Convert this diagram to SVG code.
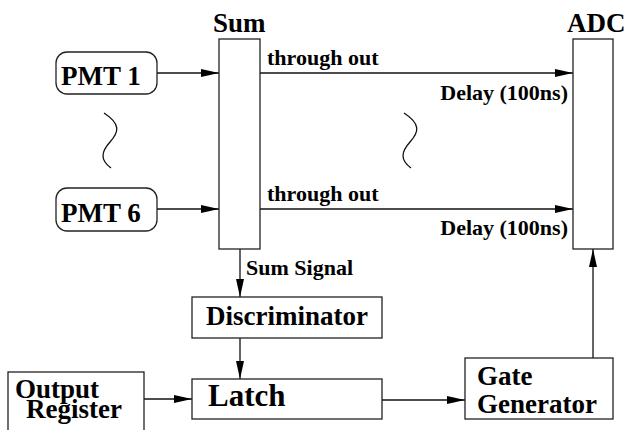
<svg xmlns="http://www.w3.org/2000/svg" width="624" height="430" viewBox="0 0 624 430">
<style>
.box{fill:#fff;stroke:#222;stroke-width:1.3}
.ln{fill:none;stroke:#111;stroke-width:1.3}
.big{font-family:"Liberation Serif","Times New Roman",serif;font-weight:bold;font-size:27px;fill:#000}
.sm{font-family:"Liberation Serif","Times New Roman",serif;font-weight:bold;font-size:22px;fill:#000}
</style>
<defs>
<marker id="ah" markerUnits="userSpaceOnUse" markerWidth="19" markerHeight="10" refX="18" refY="4.5" orient="auto">
<path d="M0,0.5 L18,4.5 L0,8.5 Z" fill="#000"/>
</marker>
</defs>
<rect width="624" height="430" fill="#fff"/>
<g id="connectors">
<line class="ln" x1="157" y1="73" x2="219" y2="73" marker-end="url(#ah)"/>
<line class="ln" x1="157" y1="209" x2="219" y2="209" marker-end="url(#ah)"/>
<line class="ln" x1="260" y1="73" x2="573" y2="73" marker-end="url(#ah)"/>
<line class="ln" x1="260" y1="209" x2="573" y2="209" marker-end="url(#ah)"/>
<line class="ln" x1="240" y1="249" x2="240" y2="297" marker-end="url(#ah)"/>
<line class="ln" x1="240" y1="338" x2="240" y2="379" marker-end="url(#ah)"/>
<line class="ln" x1="144" y1="399" x2="192" y2="399" marker-end="url(#ah)"/>
<line class="ln" x1="382" y1="400" x2="465" y2="400" marker-end="url(#ah)"/>
<line class="ln" x1="593" y1="358" x2="593" y2="249" marker-end="url(#ah)"/>
<text class="sm" x="267" y="65">through out</text>
<text class="sm" x="267" y="201">through out</text>
<text class="sm" x="568" y="100" text-anchor="end">Delay (100ns)</text>
<text class="sm" x="568" y="235" text-anchor="end">Delay (100ns)</text>
<text class="sm" x="246" y="275">Sum Signal</text>
<path class="ln" d="M104,113 C121,124 119,132 110,142 C101,152 100,160 111,168"/>
<path class="ln" d="M404,113 C421,124 419,132 410,142 C401,152 400,160 411,168"/>
</g>
<g id="pmt1">
<rect class="box" x="56" y="52" width="101" height="42" rx="11"/>
<text class="big" x="61" y="85">PMT 1</text>
</g>
<g id="pmt6">
<rect class="box" x="56" y="188" width="101" height="43" rx="11"/>
<text class="big" x="61" y="222">PMT 6</text>
</g>
<g id="sum">
<rect class="box" x="219" y="39" width="41" height="210"/>
<text class="big" x="213" y="32">Sum</text>
</g>
<g id="adc">
<rect class="box" x="573" y="39" width="40" height="210"/>
<text class="big" x="567" y="32">ADC</text>
</g>
<g id="discriminator">
<rect class="box" x="192" y="297" width="190" height="41"/>
<text class="big" x="206" y="325">Discriminator</text>
</g>
<g id="latch">
<rect class="box" x="192" y="379" width="190" height="40"/>
<text class="big" x="208" y="406" style="font-size:31px">Latch</text>
</g>
<g id="output-register">
<rect class="box" x="8" y="372" width="136" height="70"/>
<text class="big" x="15" y="398">Output</text>
<text class="big" x="26" y="418">Register</text>
</g>
<g id="gate-generator">
<rect class="box" x="465" y="358" width="148" height="61"/>
<text class="big" x="477" y="385">Gate</text>
<text class="big" x="477" y="413">Generator</text>
</g>
</svg>
